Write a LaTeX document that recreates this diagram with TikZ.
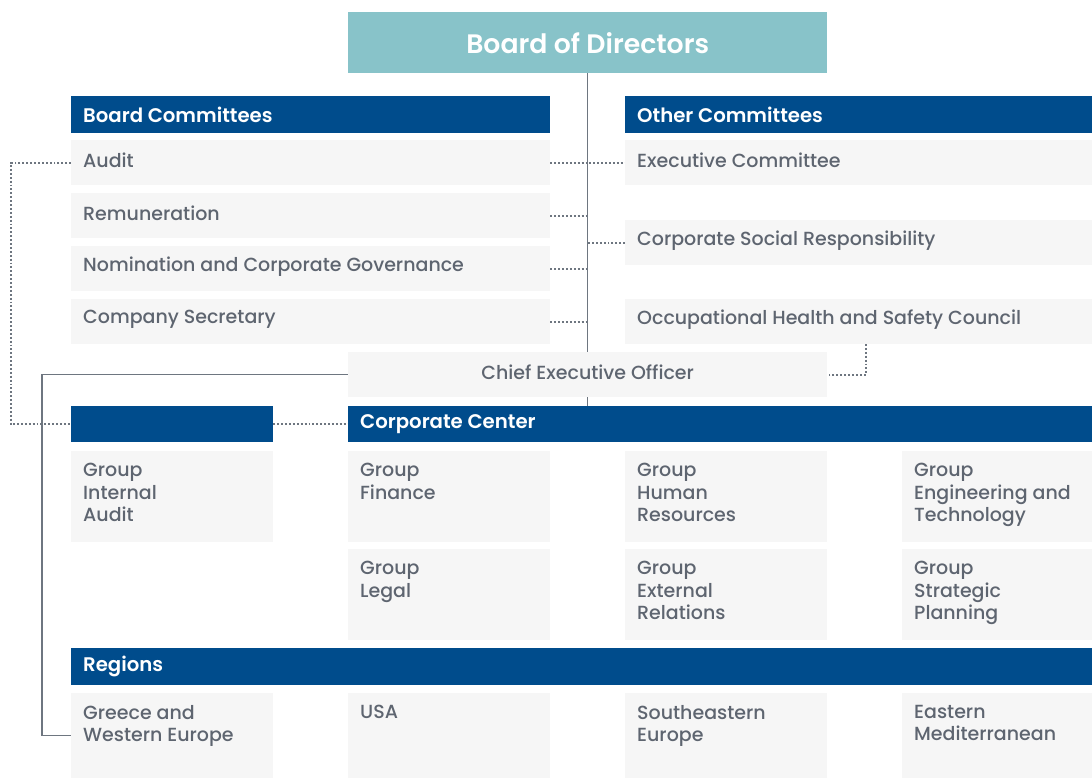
\documentclass[tikz,border=0pt]{standalone}
\usepackage{fontspec}
\setmainfont{Poppins Medium}
\newfontfamily\headfont{Poppins SemiBold}
\usepackage{xcolor}
\usetikzlibrary{backgrounds}

\definecolor{boardteal}{HTML}{88C3C9}
\definecolor{headblue}{HTML}{004C8C}
\definecolor{cellgray}{HTML}{F6F6F6}
\definecolor{inkgray}{HTML}{5E6570}
\definecolor{linegray}{HTML}{6E7680}

\begin{document}
\begin{tikzpicture}[
  x=1pt, y=-1pt,
  board/.style={fill=boardteal, anchor=north west, inner sep=0pt,
    minimum width=479pt, minimum height=61pt, text=white,
    font=\headfont\fontsize{26.7}{30}\selectfont},
  head/.style={fill=headblue, anchor=north west, inner sep=0pt, minimum height=37pt},
  headtext/.style={anchor=west, inner sep=0pt, text=white,
    font=\headfont\fontsize{19.7}{22}\selectfont},
  cell/.style={fill=cellgray, anchor=north west, inner sep=0pt},
  celltext/.style={anchor=north west, inner sep=0pt, align=left, text=inkgray,
    font=\fontsize{19}{22.5}\selectfont},
  itemtext/.style={anchor=west, inner sep=0pt, text=inkgray, yshift=2.5pt,
    font=\fontsize{19}{22.5}\selectfont},
  link/.style={draw=linegray, line width=1.3pt},
  dots/.style={draw=linegray, line width=2pt, dash pattern=on 1.9pt off 2pt},
]
\useasboundingbox (0,0) rectangle (1092,778);

% ─── Board and committees ────────────────────────────────────────────────
\node[board] (board) at (348,12) {Board of Directors};

\node[head, minimum width=479pt] (bchead) at (71,96) {};
\node[headtext] (bctext) at ([xshift=12pt]bchead.west) {Board Committees};
\node[head, minimum width=467pt] (ochead) at (625,96) {};
\node[headtext] (octext) at ([xshift=12pt]ochead.west) {Other Committees};

% left column: 479 x 45
\node[cell, minimum width=479pt, minimum height=45pt] (audit) at (71,140) {};
\node[cell, minimum width=479pt, minimum height=45pt] (remun) at (71,193) {};
\node[cell, minimum width=479pt, minimum height=45pt] (nomin) at (71,246) {};
\node[cell, minimum width=479pt, minimum height=45pt] (secr)  at (71,299) {};
\node[itemtext] (audittext) at ([xshift=12pt]audit.west) {Audit};
\node[itemtext] (remuntext) at ([xshift=12pt]remun.west) {Remuneration};
\node[itemtext] (nomintext) at ([xshift=12pt]nomin.west) {Nomination and Corporate Governance};
\node[itemtext] (secrtext)  at ([xshift=12pt]secr.west)  {Company Secretary};

% right column: 467 x 45
\node[cell, minimum width=467pt, minimum height=45pt] (exec) at (625,140) {};
\node[cell, minimum width=467pt, minimum height=45pt] (csr)  at (625,220) {};
\node[cell, minimum width=467pt, minimum height=45pt] (ohs)  at (625,299) {};
\node[itemtext] (exectext) at ([xshift=12pt]exec.west) {Executive Committee};
\node[itemtext] (csrtext)  at ([xshift=12pt]csr.west)  {Corporate Social Responsibility};
\node[itemtext] (ohstext)  at ([xshift=12pt]ohs.west)  {Occupational Health and Safety Council};

% ─── CEO ─────────────────────────────────────────────────────────────────
\node[cell, minimum width=479pt, minimum height=45pt] (ceo) at (348,352) {};
\node[itemtext, anchor=center] (ceotext) at (ceo.center) {Chief Executive Officer};

% ─── Corporate center ────────────────────────────────────────────────────
\node[head, minimum width=202pt, minimum height=36pt] (blank) at (71,406) {};
\node[head, minimum width=744pt, minimum height=36pt] (cc) at (348,406) {};
\node[headtext] (cctext) at ([xshift=12pt]cc.west) {Corporate Center};

\node[cell, minimum width=202pt, minimum height=91pt] (gia) at (71,451)  {};
\node[cell, minimum width=202pt, minimum height=91pt] (gfi) at (348,451) {};
\node[cell, minimum width=202pt, minimum height=91pt] (ghr) at (625,451) {};
\node[cell, minimum width=190pt, minimum height=91pt] (get) at (902,451) {};
\node[cell, minimum width=202pt, minimum height=91pt] (gle) at (348,549) {};
\node[cell, minimum width=202pt, minimum height=91pt] (ger) at (625,549) {};
\node[cell, minimum width=190pt, minimum height=91pt] (gsp) at (902,549) {};
\node[celltext] (giatext) at ([shift={(12,12)}]gia.north west) {Group\\Internal\\Audit};
\node[celltext] (gfitext) at ([shift={(12,12)}]gfi.north west) {Group\\Finance};
\node[celltext] (ghrtext) at ([shift={(12,12)}]ghr.north west) {Group\\Human\\Resources};
\node[celltext] (gettext) at ([shift={(12,12)}]get.north west) {Group\\Engineering and\\Technology};
\node[celltext] (gletext) at ([shift={(12,12)}]gle.north west) {Group\\Legal};
\node[celltext] (gertext) at ([shift={(12,12)}]ger.north west) {Group\\External\\Relations};
\node[celltext] (gsptext) at ([shift={(12,12)}]gsp.north west) {Group\\Strategic\\Planning};

% ─── Regions ─────────────────────────────────────────────────────────────
\node[head, minimum width=1021pt] (reghead) at (71,648) {};
\node[headtext] (regtext) at ([xshift=12pt]reghead.west) {Regions};

\node[cell, minimum width=202pt, minimum height=85pt] (greece) at (71,693)  {};
\node[cell, minimum width=202pt, minimum height=85pt] (usa)    at (348,693) {};
\node[cell, minimum width=202pt, minimum height=85pt] (seeur)  at (625,693) {};
\node[cell, minimum width=190pt, minimum height=85pt] (emed)   at (902,693) {};
\node[celltext] (greecetext) at ([shift={(12,12)}]greece.north west) {Greece and\\Western Europe};
\node[celltext] (usatext)    at ([shift={(12,12)}]usa.north west)    {USA};
\node[celltext] (seeurtext)  at ([shift={(12,12)}]seeur.north west)  {Southeastern\\Europe};
\node[celltext] (emedtext)   at ([shift={(12,12)}]emed.north west)   {Eastern\\Mediterranean};

% ─── Connectors (behind the boxes) ───────────────────────────────────────
\coordinate (auditrail) at (11,0);
\coordinate (ceorail)   at (42,0);
\coordinate (ohsdrop)   at (866,344);

\begin{pgfonlayer}{background}
\draw[link] (board.south) -- (board.south |- cc.north);
\draw[dots] (audit.east) -- (exec.west);
\draw[dots] (remun.east) -- (remun.east -| board.south);
\draw[dots] (nomin.east) -- (nomin.east -| board.south);
\draw[dots] (secr.east)  -- (secr.east -| board.south);
\draw[dots] (csr.west)   -- (csr.west -| board.south);
\draw[dots] (ohsdrop) |- (ceo.east);
\draw[dots] (audit.west) -- (audit.west -| auditrail) |- (blank.west);
\draw[dots] (blank.east) -- (cc.west);
\draw[link] (ceo.west) -- (ceo.west -| ceorail) |- (greece.west);
\end{pgfonlayer}

\end{tikzpicture}
\end{document}
